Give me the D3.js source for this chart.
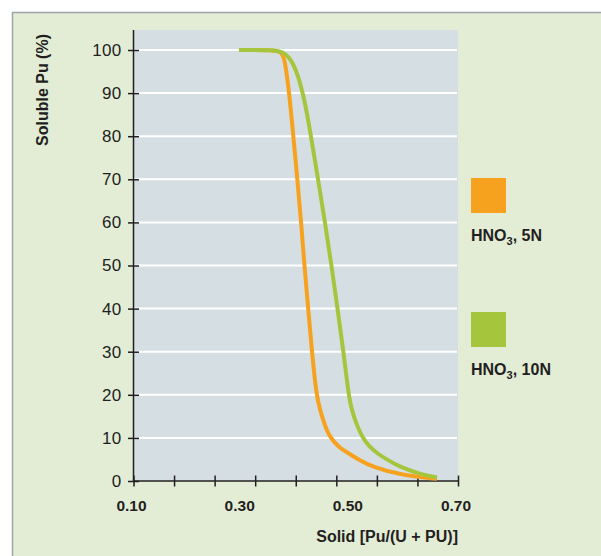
<!DOCTYPE html>
<html><head><meta charset="utf-8">
<script src="https://cdn.jsdelivr.net/npm/d3@7/dist/d3.min.js"></script>
<style>
html,body{margin:0;padding:0;background:#fff;}
svg{display:block;font-family:"Liberation Sans",Arial,sans-serif;}
</style></head>
<body>
<script>
// ---- data ----
const seriesNames = ["HNO3, 5N", "HNO3, 10N"];
const seriesLabels = [["HNO", "3", ", 5N"], ["HNO", "3", ", 10N"]];
const seriesColors = ["#F7A21E", "#A5C63C"];
const orangeX = [0.295, 0.358, 0.374, 0.380, 0.388, 0.3955, 0.403, 0.410, 0.416, 0.423, 0.430, 0.438, 0.445, 0.452, 0.4584, 0.4647, 0.4782, 0.4966, 0.5157, 0.5429, 0.5928, 0.6612];
const orangeY = [100, 100, 99.6, 97.7, 90, 80, 70, 60, 50, 40, 30, 20, 16.5, 13.6, 11.5, 10, 8, 6.5, 5, 3.2, 1.4, 0.5];
const greenX = [0.295, 0.358, 0.3746, 0.395, 0.4144, 0.4282, 0.4412, 0.4541, 0.4661, 0.4772, 0.4883, 0.4976, 0.5035, 0.5127, 0.5238, 0.536, 0.5497, 0.5682, 0.5928, 0.6353, 0.6612];
const greenY = [100, 100, 99.7, 97.7, 90, 80, 70, 60, 50, 40, 30, 20, 16.5, 13, 10, 8, 6.5, 5, 3.2, 1.4, 0.85];
const yTicks = [0, 10, 20, 30, 40, 50, 60, 70, 80, 90, 100];
const xTickMarks = [0.1, 0.175, 0.25, 0.325, 0.4, 0.475, 0.55, 0.625, 0.7];
const xTickLabels = [0.1, 0.3, 0.5, 0.7];
const xTitle = "Solid [Pu/(U + PU)]";
const yTitle = "Soluble Pu (%)";

const W = 601, H = 556;
const svg = d3.select("body").append("svg").attr("width", W).attr("height", H);

// panel
svg.append("rect").attr("x", 12).attr("y", 12).attr("width", W - 12).attr("height", H - 12).attr("fill", "#E3EDD6");
svg.append("line").attr("x1", 12).attr("x2", W).attr("y1", 12.5).attr("y2", 12.5).attr("stroke", "#9CA4A6").attr("stroke-width", 1.5);
svg.append("line").attr("x1", 12.5).attr("x2", 12.5).attr("y1", 12).attr("y2", H).attr("stroke", "#9CA4A6").attr("stroke-width", 1.5);

const L = 133.5, R = 458, T = 30, B = 481;
const x = d3.scaleLinear().domain([0.1, 0.7]).range([L, R]);
const y = d3.scaleLinear().domain([0, 100]).range([B, B - 431]);

svg.append("rect").attr("x", L).attr("y", T).attr("width", R - L).attr("height", B - T).attr("fill", "#D5DEE3");

// gridlines
svg.append("g").selectAll("line").data(yTicks.filter(d => d > 0)).join("line")
  .attr("x1", L).attr("x2", R - 1).attr("y1", d => y(d)).attr("y2", d => y(d))
  .attr("stroke", "#fff").attr("stroke-width", 2);

// y axis
const yAxis = d3.axisLeft(y).tickValues(yTicks).tickSize(5.5).tickPadding(7).tickFormat(d3.format("d"));
const gy = svg.append("g").attr("transform", `translate(${L},0)`).call(yAxis);
gy.select(".domain").remove();
gy.selectAll(".tick line").attr("x2", 5.5).attr("x1", -5.5).attr("stroke", "#231F20").attr("stroke-width", 1.5);
gy.selectAll(".tick text").attr("x", -12).attr("font-size", 17).attr("fill", "#231F20")
  .attr("font-family", "Liberation Sans, Arial, sans-serif").attr("letter-spacing", "0.3px");
svg.append("line").attr("x1", L).attr("x2", L).attr("y1", T).attr("y2", B).attr("stroke", "#231F20").attr("stroke-width", 1.5);

// x axis
const xAxis = d3.axisBottom(x).tickValues(xTickMarks).tickSize(5.5).tickFormat("");
const gx = svg.append("g").attr("transform", `translate(0,${B})`).call(xAxis);
gx.select(".domain").remove();
gx.selectAll(".tick line").attr("y1", -5.5).attr("y2", 5.5).attr("stroke", "#231F20").attr("stroke-width", 1.5);
svg.append("line").attr("x1", L).attr("x2", R).attr("y1", B).attr("y2", B).attr("stroke", "#231F20").attr("stroke-width", 1.5);
svg.append("g").selectAll("text").data(xTickLabels).join("text")
  .attr("x", d => x(d) - 2).attr("y", 511).attr("text-anchor", "middle")
  .attr("font-size", 15.5).attr("font-weight", "bold").attr("fill", "#231F20")
  .text(d => d3.format(".2f")(d));

// titles
svg.append("text").attr("x", R).attr("y", 542).attr("text-anchor", "end")
  .attr("font-size", 16).attr("font-weight", "bold").attr("fill", "#231F20").text(xTitle);
svg.append("text").attr("transform", "translate(48,90) rotate(-90)").attr("text-anchor", "middle")
  .attr("font-size", 16).attr("font-weight", "bold").attr("fill", "#231F20").text(yTitle);

// lines
const line = d3.line().x(d => x(d[0])).y(d => y(d[1])).curve(d3.curveBasis);
const seriesData = [d3.zip(orangeX, orangeY), d3.zip(greenX, greenY)];
[0, 1].forEach(i => {
  svg.append("path").datum(seriesData[i]).attr("d", line).attr("fill", "none")
    .attr("stroke", seriesColors[i]).attr("stroke-width", 4).attr("stroke-linejoin", "round");
});

// legend
const legY = [178, 312];
seriesNames.forEach((n, i) => {
  svg.append("rect").attr("x", 471).attr("y", legY[i]).attr("width", 35).attr("height", 35).attr("fill", seriesColors[i]);
  const t = svg.append("text").attr("x", 471).attr("y", legY[i] + 63).attr("font-size", 16)
    .attr("font-weight", "bold").attr("fill", "#231F20");
  t.append("tspan").text(seriesLabels[i][0]);
  t.append("tspan").attr("font-size", 11).attr("dy", 4).text(seriesLabels[i][1]);
  t.append("tspan").attr("dy", -4).text(seriesLabels[i][2]);
});
</script>
</body></html>
